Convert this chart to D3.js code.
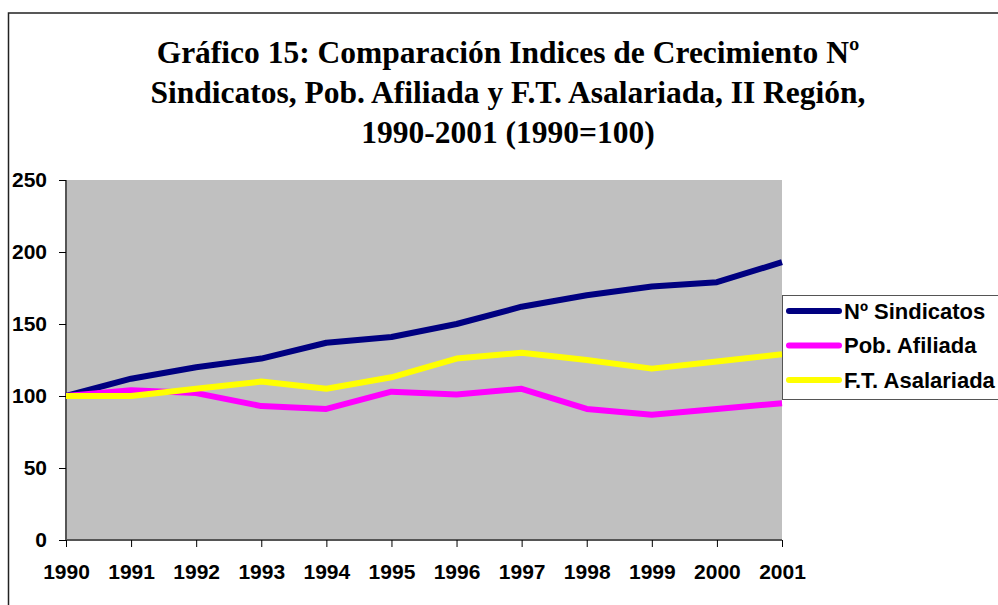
<!DOCTYPE html>
<html>
<head>
<meta charset="utf-8">
<script src="https://cdn.jsdelivr.net/npm/d3@7"></script>
<style>
  body { margin: 0; background: #fff; }
  svg { display: block; }
  .title { font-family: "Liberation Serif", "Times New Roman", serif; font-weight: bold; font-size: 31.5px; }
  .lbl { font-family: "Liberation Sans", Arial, sans-serif; font-weight: bold; font-size: 21px; }
  .leg { font-family: "Liberation Sans", Arial, sans-serif; font-weight: bold; font-size: 22px; }
</style>
</head>
<body>
<svg id="chart"></svg>
<script>
var years = ["1990", "1991", "1992", "1993", "1994", "1995", "1996", "1997", "1998", "1999", "2000", "2001"];
var sindicatos = [100, 112, 120, 126, 137, 141, 150, 162, 170, 176, 179, 193];
var afiliada = [100, 104, 102, 93, 91, 103, 101, 105, 91, 87, 91, 95];
var asalariada = [100, 100, 105, 110, 105, 113, 126, 130, 125, 119, 124, 129];
var seriesNames = ["Nº Sindicatos", "Pob. Afiliada", "F.T. Asalariada"];
var seriesColors = ["#000080", "#ff00ff", "#ffff00"];
var yTicks = [0, 50, 100, 150, 200, 250];
var titleLines = [
  "Gráfico 15: Comparación Indices de Crecimiento Nº",
  "Sindicatos, Pob. Afiliada y F.T. Asalariada, II Región,",
  "1990-2001 (1990=100)"
];

var width = 998, height = 605;
var plot = { left: 66, right: 782, top: 180, bottom: 540 };

var svg = d3.select("#chart").attr("width", width).attr("height", height);

// outer chart frame (cropped on right and bottom)
svg.append("path")
  .attr("d", "M8.5," + height + "V13H" + width)
  .attr("fill", "none")
  .attr("stroke", "#222")
  .attr("stroke-width", 1.5);

// title
svg.append("g").selectAll("text")
  .data(titleLines)
  .enter().append("text")
  .attr("class", "title")
  .attr("x", 508)
  .attr("y", (d, i) => 63 + i * 40)
  .attr("text-anchor", "middle")
  .text(d => d);

var x = d3.scalePoint().domain(years).range([plot.left, plot.right]);
var y = d3.scaleLinear().domain([0, 250]).range([plot.bottom, plot.top]);

svg.append("rect")
  .attr("x", plot.left).attr("y", plot.top)
  .attr("width", plot.right - plot.left)
  .attr("height", plot.bottom - plot.top)
  .attr("fill", "#c0c0c0");

var yAxis = svg.append("g")
  .attr("transform", "translate(" + plot.left + ",0)")
  .call(d3.axisLeft(y).tickValues(yTicks).tickSize(7).tickPadding(12));
yAxis.selectAll("text").attr("class", "lbl").attr("fill", "#000");

var xAxis = svg.append("g")
  .attr("transform", "translate(0," + plot.bottom + ")")
  .call(d3.axisBottom(x).tickSize(7).tickPadding(17));
xAxis.selectAll("text").attr("class", "lbl").attr("fill", "#000");

svg.selectAll(".domain").attr("stroke", "#555").attr("stroke-width", 2);
svg.selectAll(".tick line").attr("stroke", "#000");
// keep only the vertical/horizontal axis lines, no outer ticks
yAxis.select(".domain").attr("d", "M0," + plot.bottom + "V" + plot.top);
xAxis.select(".domain").attr("d", "M" + plot.left + ",0H" + plot.right);

var line = d3.line()
  .x((d, i) => x(years[i]))
  .y(d => y(d));

var allSeries = [sindicatos, afiliada, asalariada];
// draw in order: navy, magenta, yellow on top
svg.append("g").selectAll("path")
  .data(allSeries)
  .enter().append("path")
  .attr("d", line)
  .attr("fill", "none")
  .attr("stroke", (d, i) => seriesColors[i])
  .attr("stroke-width", 6)
  .attr("stroke-linejoin", "round");

// legend
var legend = svg.append("g").attr("transform", "translate(782,295)");
legend.append("rect")
  .attr("x", 0.5).attr("y", 0.5)
  .attr("width", 230).attr("height", 104)
  .attr("fill", "#fff")
  .attr("stroke", "#555");

var items = legend.selectAll(".item")
  .data(seriesNames)
  .enter().append("g")
  .attr("transform", (d, i) => "translate(0," + (16 + i * 34.5) + ")");
items.append("line")
  .attr("x1", 7).attr("x2", 57)
  .attr("stroke", (d, i) => seriesColors[i])
  .attr("stroke-width", 6)
  .attr("stroke-linecap", "round");
items.append("text")
  .attr("class", "leg")
  .attr("x", 62)
  .attr("dy", "0.35em")
  .text(d => d);
</script>
</body>
</html>
